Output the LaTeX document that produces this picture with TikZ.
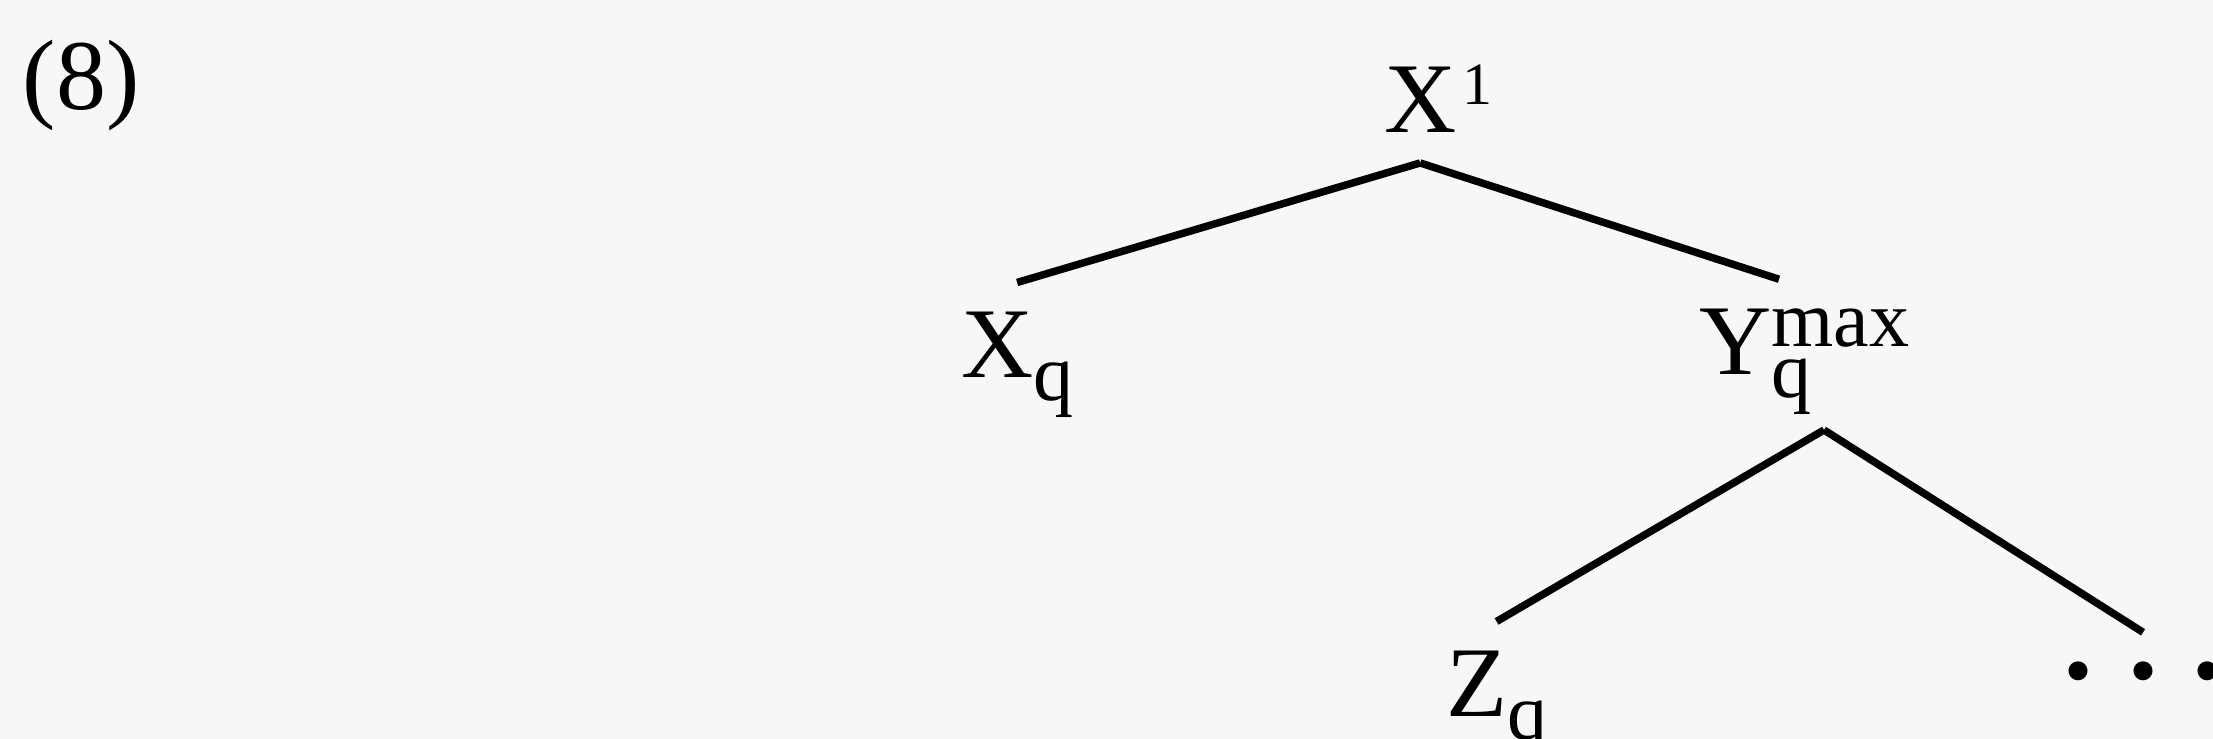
\documentclass[tikz,border=0pt]{standalone}
\usepackage{fontspec}
\setmainfont{Liberation Serif}
\usepackage{tikz}
\usetikzlibrary{positioning}
\usepackage{xcolor}
\definecolor{paper}{RGB}{247,247,247}
\newcommand{\idxfont}{\fontsize{8}{9}\selectfont}
\newcommand{\upidx}[1]{\raisebox{2.8pt}{\idxfont #1}}
\newcommand{\downidx}[1]{\raisebox{-2.3pt}{\idxfont #1}}
\newcommand{\barlevel}[1]{\kern0.6pt\raisebox{2.8pt}{\fontsize{6}{7}\selectfont #1}}

\begin{document}
\begin{tikzpicture}[x=1pt,y=1pt,
  cat/.style={inner sep=0pt,outer xsep=0pt,outer ysep=3pt,anchor=base west,
    font=\fontsize{10}{12}\selectfont},
  branch/.style={black,line width=0.75pt}
]
\fill[paper] (0,0) rectangle (221.3,73.9);
\useasboundingbox (0,0) rectangle (221.3,73.9);

\node[cat] (num) at (2.3,62.9) {(8)};

% the tree
\node[cat] (x1) at (138.4,60.6) {X\rlap{\barlevel{1}}};
\node[cat] (xq) at (96.1,36.1) {X\downidx{q}};
\node[cat] (ymax) at (169.9,36.4) {Y\rlap{\downidx{q}}\upidx{max}};
\node[cat] (zq) at (144.6,2.2) {Z\downidx{q}};
\node[cat,anchor=base,font=\fontsize{16}{18}\selectfont] (dots) at (214.3,6.0)
  {.\kern2.5pt.\kern2.5pt.};

\draw[branch] (x1.south) -- (xq.north);
\draw[branch] (x1.south) -- ([xshift=-2.5pt]ymax.north);
\draw[branch] ([xshift=2pt,yshift=1.5pt]ymax.south) -- (zq.north);
\draw[branch] ([xshift=2pt,yshift=1.5pt]ymax.south) -- (dots.north);
\end{tikzpicture}
\end{document}
